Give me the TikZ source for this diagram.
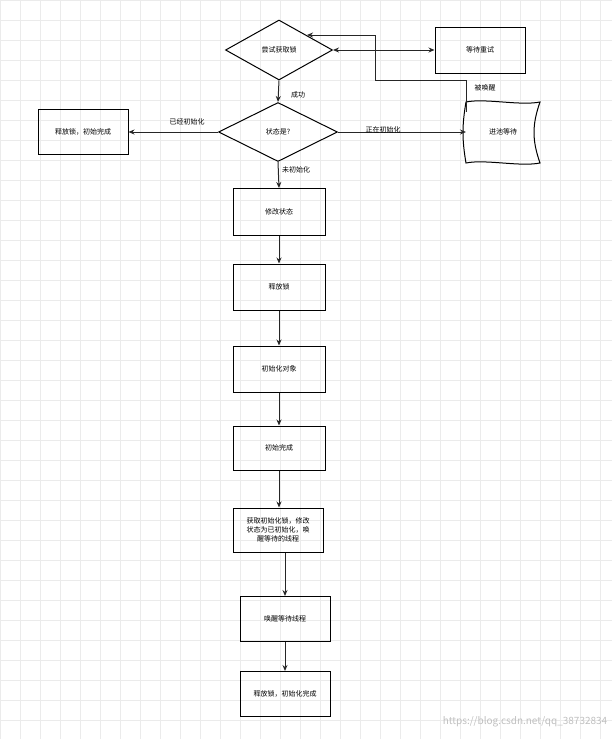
\documentclass[tikz,border=0pt]{standalone}
\usepackage{fontspec}
\setmainfont{Noto Sans CJK SC}
\usetikzlibrary{shapes.geometric,arrows.meta}
\begin{document}
\begin{tikzpicture}[x=1pt,y=-1pt,
  box/.style={draw,line width=1pt,minimum width=#1,align=center,font=\fontsize{7}{9}\selectfont,inner sep=1pt},
  dia/.style={draw,diamond,line width=1pt,aspect=1.8,inner sep=0pt,font=\fontsize{7}{9}\selectfont},
  arr/.style={-{Stealth[length=6pt,width=5pt]},line width=1pt,draw=black!85},
  lab/.style={font=\fontsize{7}{9}\selectfont,inner sep=1pt}]
\useasboundingbox (0,0) rectangle (612,739);
\foreach \i in {0,20,...,600} \draw[black!8,line width=0.4pt] (\i,0) -- (\i,739);
\foreach \j in {0,20,...,720} \draw[black!8,line width=0.4pt] (0,\j) -- (612,\j);
\node[dia,minimum width=107,minimum height=60] (d1) at (279,50) {尝试获取锁};
\node[box=90,minimum height=46] (retry) at (480,50) {等待重试};
\node[dia,minimum width=119,minimum height=59] (d2) at (278,132) {状态是?};
\node[box=90,minimum height=45] (left) at (83,132) {释放锁，初始完成};
\node[minimum width=74,minimum height=61,inner sep=0pt,font=\fontsize{7}{9}\selectfont] (wait) at (503,132) {进池等待};
\draw[line width=1pt] (466,102) .. controls (485,98) and (520,106) .. (540,102)
  .. controls (532,125) and (532,140) .. (540,163)
  .. controls (520,167) and (485,159) .. (466,163)
  .. controls (462,140) and (462,125) .. cycle;
\node[box=92,minimum height=47] (b1) at (279,212) {修改状态};
\node[box=92,minimum height=46] (b2) at (279,287) {释放锁};
\node[box=92,minimum height=46] (b3) at (279,369) {初始化对象};
\node[box=92,minimum height=44] (b4) at (279,448) {初始完成};
\node[box=90,minimum height=44] (b5) at (278,530) {获取初始化锁，修改\\状态为已初始化，唤\\醒等待的线程};
\node[box=90,minimum height=45] (b6) at (285,619) {唤醒等待线程};
\node[box=90,minimum height=45] (b7) at (285,694) {释放锁，初始化完成};
\coordinate (c1) at (466,80);
\coordinate (c2) at (375,80);
\coordinate (c3) at (375,35);
\coordinate (c4) at (307,35);
\draw[arr,{Stealth[length=6pt,width=5pt]}-{Stealth[length=6pt,width=5pt]}] (d1.east) -- (retry.west);
\draw[arr] (466,112) -- (c1) -- (c2) -- (c3) -- (c4);
\node[lab] at (485,88) {被唤醒};
\draw[arr] (d1.south) -- (d2.north);
\node[lab] at (298,95) {成功};
\draw[arr] (d2.west) -- (left.east);
\node[lab] at (187,122) {已经初始化};
\draw[arr] (d2.east) -- (466,132);
\node[lab] at (383,130) {正在初始化};
\draw[arr] (d2.south) -- (b1.north);
\node[lab] at (296,170) {未初始化};
\draw[arr] (b1) -- (b2);
\draw[arr] (b2) -- (b3);
\draw[arr] (b3) -- (b4);
\draw[arr] (b4.south) -- (b4.south|-b5.north);
\draw[arr] (b6.north|-b5.south) -- (b6.north);
\draw[arr] (b6) -- (b7);
\node[lab,text=black!25,font=\fontsize{10}{12}\selectfont] at (525,722) {https://blog.csdn.net/qq\_38732834};
\end{tikzpicture}
\end{document}
